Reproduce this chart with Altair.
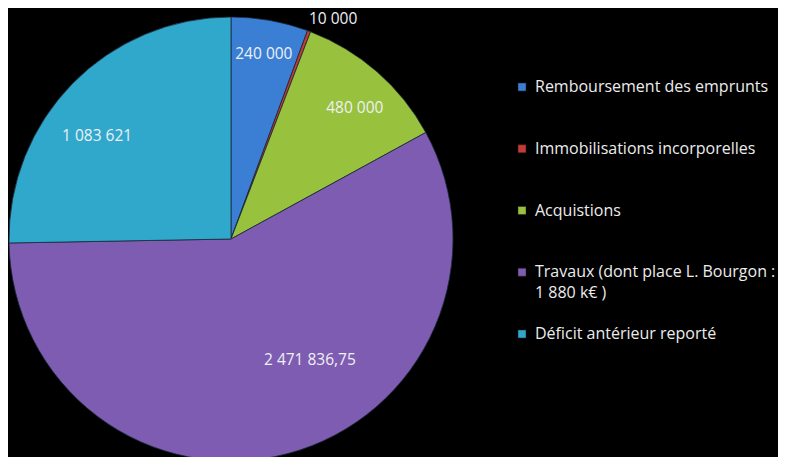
import altair as alt
import pandas as pd

categories = [
    "Remboursement des emprunts",
    "Immobilisations  incorporelles",
    "Acquistions",
    "Travaux (dont place L. Bourgon :\n1 880 k€ )",
    "Déficit antérieur reporté",
]
values = [240000, 10000, 480000, 2471836.75, 1083621]
labels = ["240 000", "10 000", "480 000", "2 471 836,75", "1 083 621"]
colors = ["#3a7fd4", "#c63a36", "#98c23e", "#7e5cb2", "#30a8cc"]

df = pd.DataFrame({
    "cat": categories,
    "val": values,
    "lab": labels,
    "idx": list(range(len(categories))),
})

color = alt.Color("cat:N", scale=alt.Scale(domain=categories, range=colors), legend=None)
theta = alt.Theta("val:Q", stack=True)
order = alt.Order("idx:Q")

CX, CY, R = 223, 231, 222
FONT = "Open Sans"
LFS = 15.5

base = alt.Chart(df)

pie = base.mark_arc(stroke="#1c2a3a", strokeWidth=0.8).encode(
    theta=theta, color=color, order=order,
    x=alt.value(CX), y=alt.value(CY), radius=alt.value(R),
)


def slice_label(cond, radius, dx=0, dy=0):
    return base.mark_text(font=FONT, fontSize=LFS, color="#eef0f4", dx=dx, dy=dy).encode(
        theta=theta, order=order,
        text=alt.condition(cond, "lab:N", alt.value("")),
        x=alt.value(CX), y=alt.value(CY), radius=alt.value(radius),
    )


lab_blue = slice_label("datum.idx == 0", 182, dx=1, dy=-6)
lab_red = slice_label("datum.idx == 1", 242, dx=17, dy=7)
lab_green = slice_label("datum.idx == 2", 182, dx=4, dy=6)
lab_purple = slice_label("datum.idx == 3", 144, dx=42, dy=-18)
lab_cyan = slice_label("datum.idx == 4", 182, dx=-4, dy=25)

ypos = alt.Y("cat:N", scale=alt.Scale(type="point", domain=categories, range=[79, 326], padding=0), axis=None)

leg_sym = base.mark_square(size=64, opacity=1, stroke="#222", strokeWidth=0.5).encode(
    x=alt.value(514), y=ypos, color=color,
)
leg_txt = base.mark_text(
    font=FONT, fontSize=16, color="#ececec", align="left", baseline="top",
    dy=-8, lineBreak="\n", lineHeight=21,
).encode(
    x=alt.value(527), y=ypos, text="cat:N",
)

chart = alt.layer(
    pie, lab_blue, lab_red, lab_green, lab_purple, lab_cyan, leg_sym, leg_txt
).properties(
    width=770, height=449, background="#000000",
    autosize=alt.AutoSizeParams(type="none"), padding=0,
).configure_view(stroke=None)

chart.save("out.html", embed_options={"renderer": "svg", "actions": False})
